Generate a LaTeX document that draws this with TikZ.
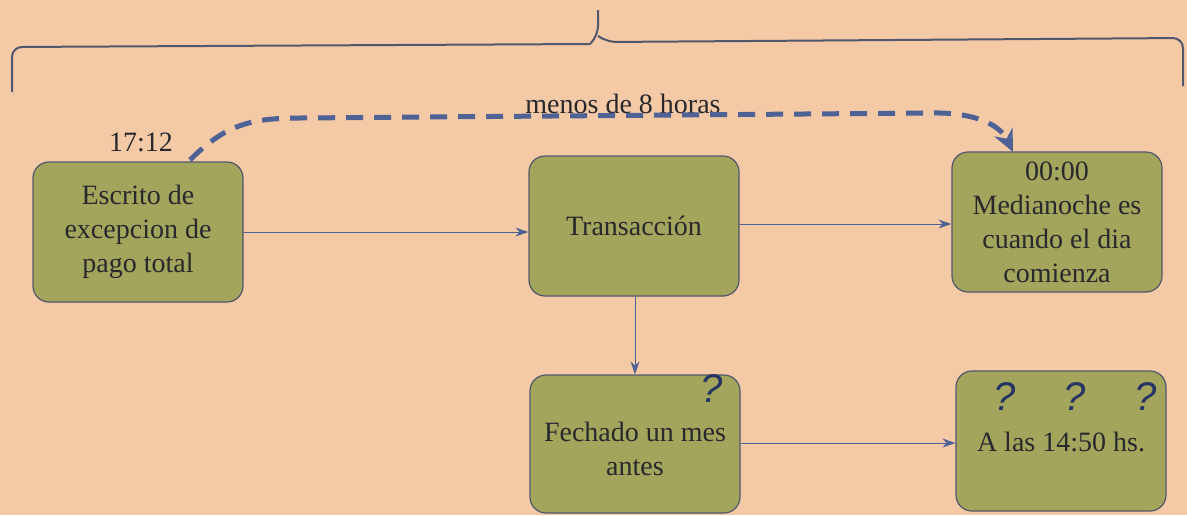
\documentclass[tikz,border=0pt]{standalone}
\usepackage{fontspec}
\setmainfont{Liberation Serif}
\newfontfamily\qfont{Liberation Sans}
\usetikzlibrary{arrows.meta,calc}
\definecolor{bgc}{RGB}{244,201,166}
\definecolor{boxfill}{RGB}{163,165,92}
\definecolor{boxedge}{RGB}{82,88,108}
\definecolor{arrc}{RGB}{78,98,150}
\definecolor{txtc}{RGB}{40,40,45}
\definecolor{qc}{RGB}{38,52,100}
\tikzset{
  stepbox/.style={draw=boxedge, line width=1.2pt, fill=boxfill, rounded corners=16pt,
    minimum width=210pt, minimum height=140pt, align=center, text=txtc,
    font=\fontsize{28}{34}\selectfont, inner sep=2pt},
  conn/.style={draw=arrc, line width=1pt, -{Stealth[length=13pt,width=9pt]}},
  dashconn/.style={draw=arrc, line width=5pt, dash pattern=on 17pt off 11pt,
    -{Stealth[length=22pt,width=20pt]}},
  lbl/.style={text=txtc, font=\fontsize{28}{34}\selectfont, inner sep=0pt, align=center},
  qmark/.style={text=qc, font=\qfont\itshape\fontsize{40}{40}\selectfont, inner sep=0pt},
  bracec/.style={draw=boxedge, line width=2pt, rounded corners=10pt}
}
\begin{document}
\begin{tikzpicture}[x=1pt,y=-1pt]
\fill[bgc] (0,0) rectangle (1187,515);
\useasboundingbox (0,0) rectangle (1187,515);

\node[stepbox] (esc) at (138,232) {Escrito de\\excepcion de\\pago total};
\node[stepbox] (tra) at (634,226) {Transacción};
\node[stepbox] (med) at (1057,222) {00:00\\Medianoche es\\cuando el dia\\comienza};
\node[stepbox, minimum height=138pt] (fec) at (635,444) {};
\node[lbl] (fectext) at (635,449) {Fechado un mes\\antes};
\node[stepbox] (las) at (1061,441) {};
\node[lbl] (lastext) at (1061,442) {A las 14:50 hs.};

\node[qmark] (q0) at (712,389) {?};
\node[qmark] (q1) at (1005,397) {?};
\node[qmark] (q2) at (1075,397) {?};
\node[qmark] (q3) at (1146,397) {?};

\node[lbl] (t1712) at (141,142) {17:12};
\node[lbl] (menos) at (623,104) {menos de 8 horas};

\draw[conn] (esc.east |- 0,232) -- (tra.west |- 0,232);
\draw[conn] (tra.east |- 0,224) -- (med.west |- 0,224);
\draw[conn] (tra.south -| 635,0) -- (fec.north -| 635,0);
\draw[conn] (fec.east |- 0,443) -- (las.west |- 0,443);

\coordinate (ds) at (190,160);
\coordinate (de) at (1013,152);
\draw[dashconn] (ds) .. controls (225,125) and (250,118) .. (300,118)
  -- (930,113) .. controls (975,112) and (1000,125) .. (de);

\draw[bracec] (12,92) -- (12,47) -- (590,44);
\draw[bracec] (590,44) -- (598,36) -- (598,10);
\draw[bracec] (598,36) -- (606,42) -- (1183,38) -- (1183,86);
\end{tikzpicture}
\end{document}
